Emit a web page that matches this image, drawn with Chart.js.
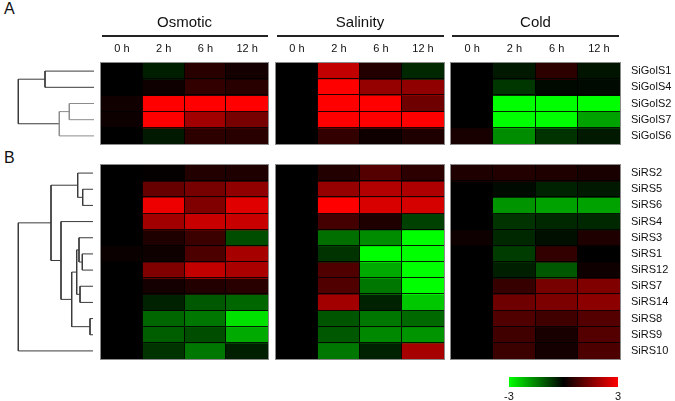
<!DOCTYPE html>
<html><head><meta charset="utf-8">
<script src="https://cdn.jsdelivr.net/npm/chart.js@4.4.1/dist/chart.umd.min.js"></script>
<style>
html,body{margin:0;padding:0;background:#fff;width:675px;height:401px;overflow:hidden;font-family:'Liberation Sans',Arial,sans-serif;position:relative;}
.rule{position:absolute;height:2px;background:#222;}
.letter{position:absolute;font-size:16px;color:#111;line-height:18px;}
</style></head><body>
<div class="letter" style="left:4px;top:0px">A</div>
<div class="letter" style="left:4px;top:149px">B</div>
<div class="rule" style="left:102px;top:35px;width:166px"></div>
<div class="rule" style="left:277px;top:35px;width:167px"></div>
<div class="rule" style="left:452px;top:35px;width:167px"></div>
<script>
// ---------- DATA ----------
const timeLabels = ['0 h', '2 h', '6 h', '12 h'];
const stressNames = ['Osmotic', 'Salinity', 'Cold'];

const golsGenes = ['SiGolS1', 'SiGolS4', 'SiGolS2', 'SiGolS7', 'SiGolS6'];
const golsOsmotic = [
  [0, -0.35, 0.47, 0.24],
  [0, 0.18, 0.6, 0.47],
  [0.2, 3, 3, 3],
  [0.15, 3, 1.9, 1.4],
  [0, -0.3, 0.53, 0.47]
];
const golsSalinity = [
  [0, 2.3, 0.4, -0.47],
  [0, 3, 1.75, 1.7],
  [0, 3, 3, 1.3],
  [0, 3, 3, 3],
  [0, 0.6, 0.18, 0.35]
];
const golsCold = [
  [0, -0.3, 0.53, -0.24],
  [0, -0.65, -0.1, -0.12],
  [0, -3, -3, -3],
  [0, -3, -3, -1.9],
  [0.3, -1.65, -0.6, -0.3]
];
// dendrogram (leaf indices 0..n-1, merged nodes n, n+1, ...)
const golsMergeLeft = [0, 2, 6, 5];
const golsMergeRight = [1, 3, 4, 7];
const golsMergeHeight = [49, 24.7, 34.7, 75.7];

const rsGenes = ['SiRS2', 'SiRS5', 'SiRS6', 'SiRS4', 'SiRS3', 'SiRS1', 'SiRS12', 'SiRS7', 'SiRS14', 'SiRS8', 'SiRS9', 'SiRS10'];
const rsOsmotic = [
  [0, 0.05, 0.4, 0.35],
  [0, 1.2, 1.4, 1.7],
  [0, 2.8, 1.5, 2.65],
  [0, 1.9, 2.35, 2.35],
  [0, 0.35, 0.7, -0.9],
  [0.12, 0.18, 0.9, 1.95],
  [0, 1.5, 2.3, 2.0],
  [0, 0.24, 0.4, 0.47],
  [0, -0.4, -1.05, -1.2],
  [0, -1.2, -1.4, -2.65],
  [0, -1.1, -0.9, -2.0],
  [0, -0.6, -1.4, -0.35]
];
const rsSalinity = [
  [0, 0.4, 1.0, 0.53],
  [0, 1.75, 2.1, 2.05],
  [0, 3, 2.55, 2.5],
  [0, 0.8, 0.35, -0.75],
  [0, -1.3, -1.65, -3],
  [0, -0.6, -3, -3],
  [0, 0.95, -2.0, -3],
  [0, 0.95, -1.4, -3],
  [0, 1.9, -0.4, -2.35],
  [0, -1.0, -1.4, -1.25],
  [0, -1.05, -1.6, -1.75],
  [0, -1.4, -0.4, 1.95]
];
const rsCold = [
  [0.35, 0.4, 0.35, 0.3],
  [0, -0.12, -0.4, -0.3],
  [0, -1.75, -1.9, -1.9],
  [0, -0.6, -0.47, -0.47],
  [0.18, -0.47, -0.18, 0.35],
  [0, -0.7, 0.6, 0],
  [0, -0.35, -1.05, 0.18],
  [0, 0.65, 1.4, 1.5],
  [0, 1.3, 1.47, 1.65],
  [0, 0.95, 0.75, 1.0],
  [0, 0.75, 0.3, 1.0],
  [0, 0.7, 0.24, 0.9]
];
const rsMergeLeft = [1, 0, 5, 4, 7, 15, 9, 17, 3, 13, 21];
const rsMergeRight = [2, 12, 6, 14, 8, 16, 10, 18, 19, 20, 11];
const rsMergeHeight = [10.3, 15.3, 10.7, 14, 13, 16.3, 3, 21.3, 32, 42, 74.7];

const colorbarRange = [-3, 3];
const colorbarTicks = [-3, 3];

// ---------- RENDERING ----------
const FONT = "'Liberation Sans', Arial, sans-serif";
Chart.defaults.font.family = FONT;
Chart.defaults.color = '#111';

function toColor(v) {
  const t = Math.max(-1, Math.min(1, v / 3));
  const c = Math.round(255 * Math.abs(t));
  return t >= 0 ? `rgb(${c},0,0)` : `rgb(0,${c},0)`;
}

function addCanvas(left, top, w, h) {
  const c = document.createElement('canvas');
  c.width = w; c.height = h;
  c.style.cssText = `position:absolute;left:${left}px;top:${top}px;width:${w}px;height:${h}px;`;
  document.body.appendChild(c);
  return c;
}

const cellGridPlugin = {
  id: 'cellGrid',
  afterDatasetsDraw(chart, args, opts) {
    const xs = chart.scales.x, ys = chart.scales.y, a = chart.chartArea, c = chart.ctx;
    c.save();
    c.strokeStyle = opts.lineColor || '#000';
    c.lineWidth = 1;
    c.beginPath();
    const nx = chart.data.labels.length;
    for (let i = 1; i < nx; i++) {
      const px = Math.round((xs.getPixelForValue(i - 1) + xs.getPixelForValue(i)) / 2) - 0.5;
      c.moveTo(px, a.top); c.lineTo(px, a.bottom);
    }
    const ny = chart.data.datasets.length;
    for (let k = 1; k < ny; k++) {
      const py = Math.round(ys.getPixelForValue(k)) - 0.5;
      c.moveTo(a.left, py); c.lineTo(a.right, py);
    }
    c.stroke();
    c.strokeStyle = opts.frameColor || '#888';
    c.strokeRect(Math.round(a.left) - 0.5, Math.round(a.top) - 0.5,
                 Math.round(a.right - a.left) + 1, Math.round(a.bottom - a.top) + 1);
    c.restore();
  }
};

function heatmap(o) {
  const hasNames = !!o.names, hasTitle = !!o.title;
  const left = o.x - 2, top = hasTitle ? 0 : o.y - 2;
  const w = o.w + 2 + (hasNames ? 55 : 2);
  const h = o.y + o.h + 2 - top;
  const cv = addCanvas(left, top, w, h);
  return new Chart(cv, {
    type: 'bar',
    data: {
      labels: timeLabels,
      datasets: o.genes.map((g, r) => ({
        label: g,
        data: timeLabels.map(() => 1),
        backgroundColor: o.values[r].map(toColor),
        borderWidth: 0,
        inflateAmount: 0.5,
        barPercentage: 1,
        categoryPercentage: 1
      }))
    },
    options: {
      responsive: false, devicePixelRatio: 1, animation: false,
      layout: { padding: { left: 2, right: hasNames ? 0 : 2, top: hasTitle ? 0 : 2, bottom: 2 } },
      plugins: {
        legend: { display: false }, tooltip: { enabled: false },
        title: { display: hasTitle, text: o.title, fullSize: false, color: '#111',
                 font: { size: 15, weight: 'normal' }, padding: { top: 14, bottom: 8 } },
        cellGrid: { lineColor: 'rgba(0,0,0,0.85)', frameColor: '#8a8a8a' }
      },
      scales: {
        x: {
          stacked: true, position: 'top', display: hasTitle, offset: true,
          grid: { display: false, drawTicks: false }, border: { display: false },
          ticks: { padding: 7, font: { size: 11 }, color: '#111', maxRotation: 0, autoSkip: false },
          afterFit: s => { if (hasTitle) s.height = 23; s.paddingLeft = 0; s.paddingRight = 0; }
        },
        y: {
          stacked: true, position: 'right', display: hasNames, reverse: true,
          min: 0, max: o.genes.length,
          grid: { display: false, drawTicks: false }, border: { display: false },
          afterBuildTicks: s => { s.ticks = o.genes.map((g, i) => ({ value: i + 0.5 })); },
          ticks: { padding: 11, font: { size: 11 }, color: '#111', autoSkip: false,
                   callback: v => o.genes[Math.floor(v)] },
          afterFit: s => { if (hasNames) s.width = 55; s.paddingTop = 0; s.paddingBottom = 0; }
        }
      }
    },
    plugins: [cellGridPlugin]
  });
}

function dendrogram(o) {
  const cv = addCanvas(0, o.y - 2, o.w + 2, o.h + 4);
  const pos = [];
  for (let i = 0; i < o.n; i++) pos.push({ x: 0, y: i + 0.5 });
  const datasets = [];
  o.left.forEach((a, k) => {
    const b = o.right[k], hg = o.height[k];
    const A = pos[a], B = pos[b];
    pos.push({ x: hg, y: (A.y + B.y) / 2 });
    datasets.push({
      data: [{ x: A.x, y: A.y }, { x: hg, y: A.y }, { x: hg, y: B.y }, { x: B.x, y: B.y }],
      showLine: true, borderColor: o.colorOf(k), borderWidth: 1,
      pointRadius: 0, tension: 0, clip: false, fill: false
    });
  });
  new Chart(cv, {
    type: 'scatter',
    data: { datasets },
    options: {
      responsive: false, devicePixelRatio: 1, animation: false,
      layout: { padding: { left: 0, right: 2, top: 2, bottom: 2 } },
      plugins: { legend: { display: false }, tooltip: { enabled: false } },
      scales: {
        x: { type: 'linear', display: false, reverse: true, min: 0, max: o.w },
        y: { type: 'linear', display: false, reverse: true, min: 0, max: o.n }
      }
    }
  });
}

// layout
const blockX = [101, 276, 451];
const blockW = [167, 168, 169];
const golsSets = [golsOsmotic, golsSalinity, golsCold];
const rsSets = [rsOsmotic, rsSalinity, rsCold];

stressNames.forEach((s, i) => {
  heatmap({ x: blockX[i], y: 63, w: blockW[i], h: 81, title: s,
            genes: golsGenes, values: golsSets[i], names: i === 2 });
  heatmap({ x: blockX[i], y: 165, w: blockW[i], h: 194,
            genes: rsGenes, values: rsSets[i], names: i === 2 });
});

const golsGrey = [1, 2];
dendrogram({ y: 63, h: 81, w: 94, n: golsGenes.length,
  left: golsMergeLeft, right: golsMergeRight, height: golsMergeHeight,
  colorOf: k => golsGrey.includes(k) ? '#8c8c8c' : '#3a3a3a' });
dendrogram({ y: 165, h: 194, w: 93, n: rsGenes.length,
  left: rsMergeLeft, right: rsMergeRight, height: rsMergeHeight,
  colorOf: k => '#3a3a3a' });

// colour scale
const cb = addCanvas(495, 370, 140, 31);
new Chart(cb, {
  type: 'bar',
  data: {
    labels: [''],
    datasets: [{
      data: [[colorbarRange[0], colorbarRange[1]]],
      backgroundColor: ctx => {
        const a = ctx.chart.chartArea;
        if (!a) return '#000';
        const g = ctx.chart.ctx.createLinearGradient(a.left, 0, a.right, 0);
        g.addColorStop(0, toColor(colorbarRange[0]));
        g.addColorStop(0.5, toColor(0));
        g.addColorStop(1, toColor(colorbarRange[1]));
        return g;
      },
      barPercentage: 1, categoryPercentage: 1, borderWidth: 0
    }]
  },
  options: {
    indexAxis: 'y', responsive: false, devicePixelRatio: 1, animation: false,
    layout: { padding: { left: 14, right: 17, top: 7, bottom: 0 } },
    plugins: { legend: { display: false }, tooltip: { enabled: false } },
    scales: {
      x: {
        type: 'linear', min: colorbarRange[0], max: colorbarRange[1],
        grid: { display: false, drawTicks: false }, border: { display: false },
        afterBuildTicks: s => { s.ticks = colorbarTicks.map(v => ({ value: v })); },
        ticks: { padding: 3, font: { size: 11 }, color: '#111',
                 callback: v => (v < 0 ? '-' : '') + Math.abs(v) },
        afterFit: s => { s.height = 14; }
      },
      y: { display: false }
    }
  }
});
</script>
</body></html>
